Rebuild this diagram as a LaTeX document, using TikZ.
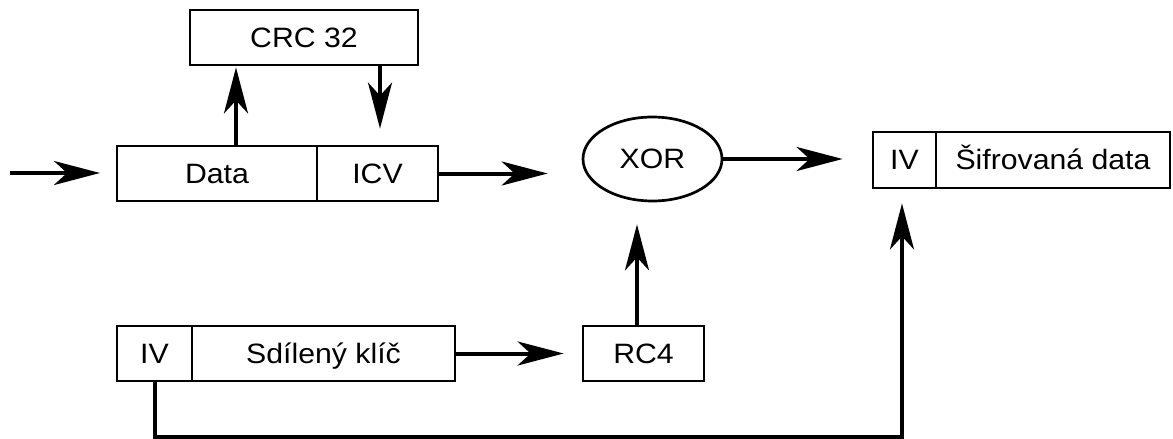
\documentclass[tikz,border=0pt]{standalone}
\usepackage{fontspec}
\setmainfont{Liberation Sans}[FakeStretch=1.08]
\usetikzlibrary{arrows.meta,shapes.geometric}
\begin{document}
\begin{tikzpicture}[x=1pt,y=-1pt,
  lbl/.style={font=\fontsize{28}{33}\selectfont,text height=19.5pt,text depth=0pt},
  box/.style={draw,line width=2.8pt,inner sep=0pt,minimum height=55pt,lbl},
  arr/.style={line width=4pt,-{Stealth[length=46pt,width=24pt,inset=13pt]}}]
\useasboundingbox (0,0) rectangle (1173,439);
% boxes
\node[box,minimum width=228pt] (crc) at (304,37.5) {CRC 32};
\node[box,minimum width=200pt] (data) at (217,173.5) {Data};
\node[box,minimum width=121pt] (icv) at (377.5,173.5) {ICV};
\node[draw,ellipse,line width=2.7pt,inner sep=0pt,minimum width=139pt,minimum height=84pt,lbl] (xor) at (652.5,159) {XOR};
\node[box,minimum width=63pt,minimum height=56pt] (iv2) at (904.5,160) {IV};
\node[box,minimum width=234pt,minimum height=56pt] (enc) at (1053,160) {Šifrovaná data};
\node[box,minimum width=75pt] (iv1) at (154.5,353.5) {IV};
\node[box,minimum width=263pt] (key) at (323.5,353.5) {Sdílený klíč};
\node[box,minimum width=121pt] (rc4) at (643.5,353.5) {RC4};
% helper coordinates
\coordinate (in) at (10,173);
\coordinate (inT) at (100,173);
\coordinate (ux) at (236,0);
\coordinate (dx) at (380,0);
\coordinate (rx) at (637,0);
\coordinate (bl) at (155,437);
\coordinate (br) at (902,437);
% connectors
\draw[arr] (in) -- (inT);
\draw[arr,shorten >=1pt] (data.north -| ux) -- (crc.south -| ux);
\draw[arr,shorten >=16pt] (crc.south -| dx) -- (icv.north -| dx);
\draw[arr,shorten >=34pt] (icv.east) -- (icv.east -| xor.west);
\draw[arr,shorten >=29pt] (xor.east) -- (xor.east -| iv2.west);
\draw[arr,shorten >=18pt] (key.east) -- (rc4.west);
\draw[arr,shorten >=22pt] (rc4.north -| rx) -- (xor.south -| rx);
\draw[arr,shorten >=14pt] (iv1.south -| bl) -- (bl) -- (br) -- (iv2.south -| br);
\end{tikzpicture}
\end{document}
